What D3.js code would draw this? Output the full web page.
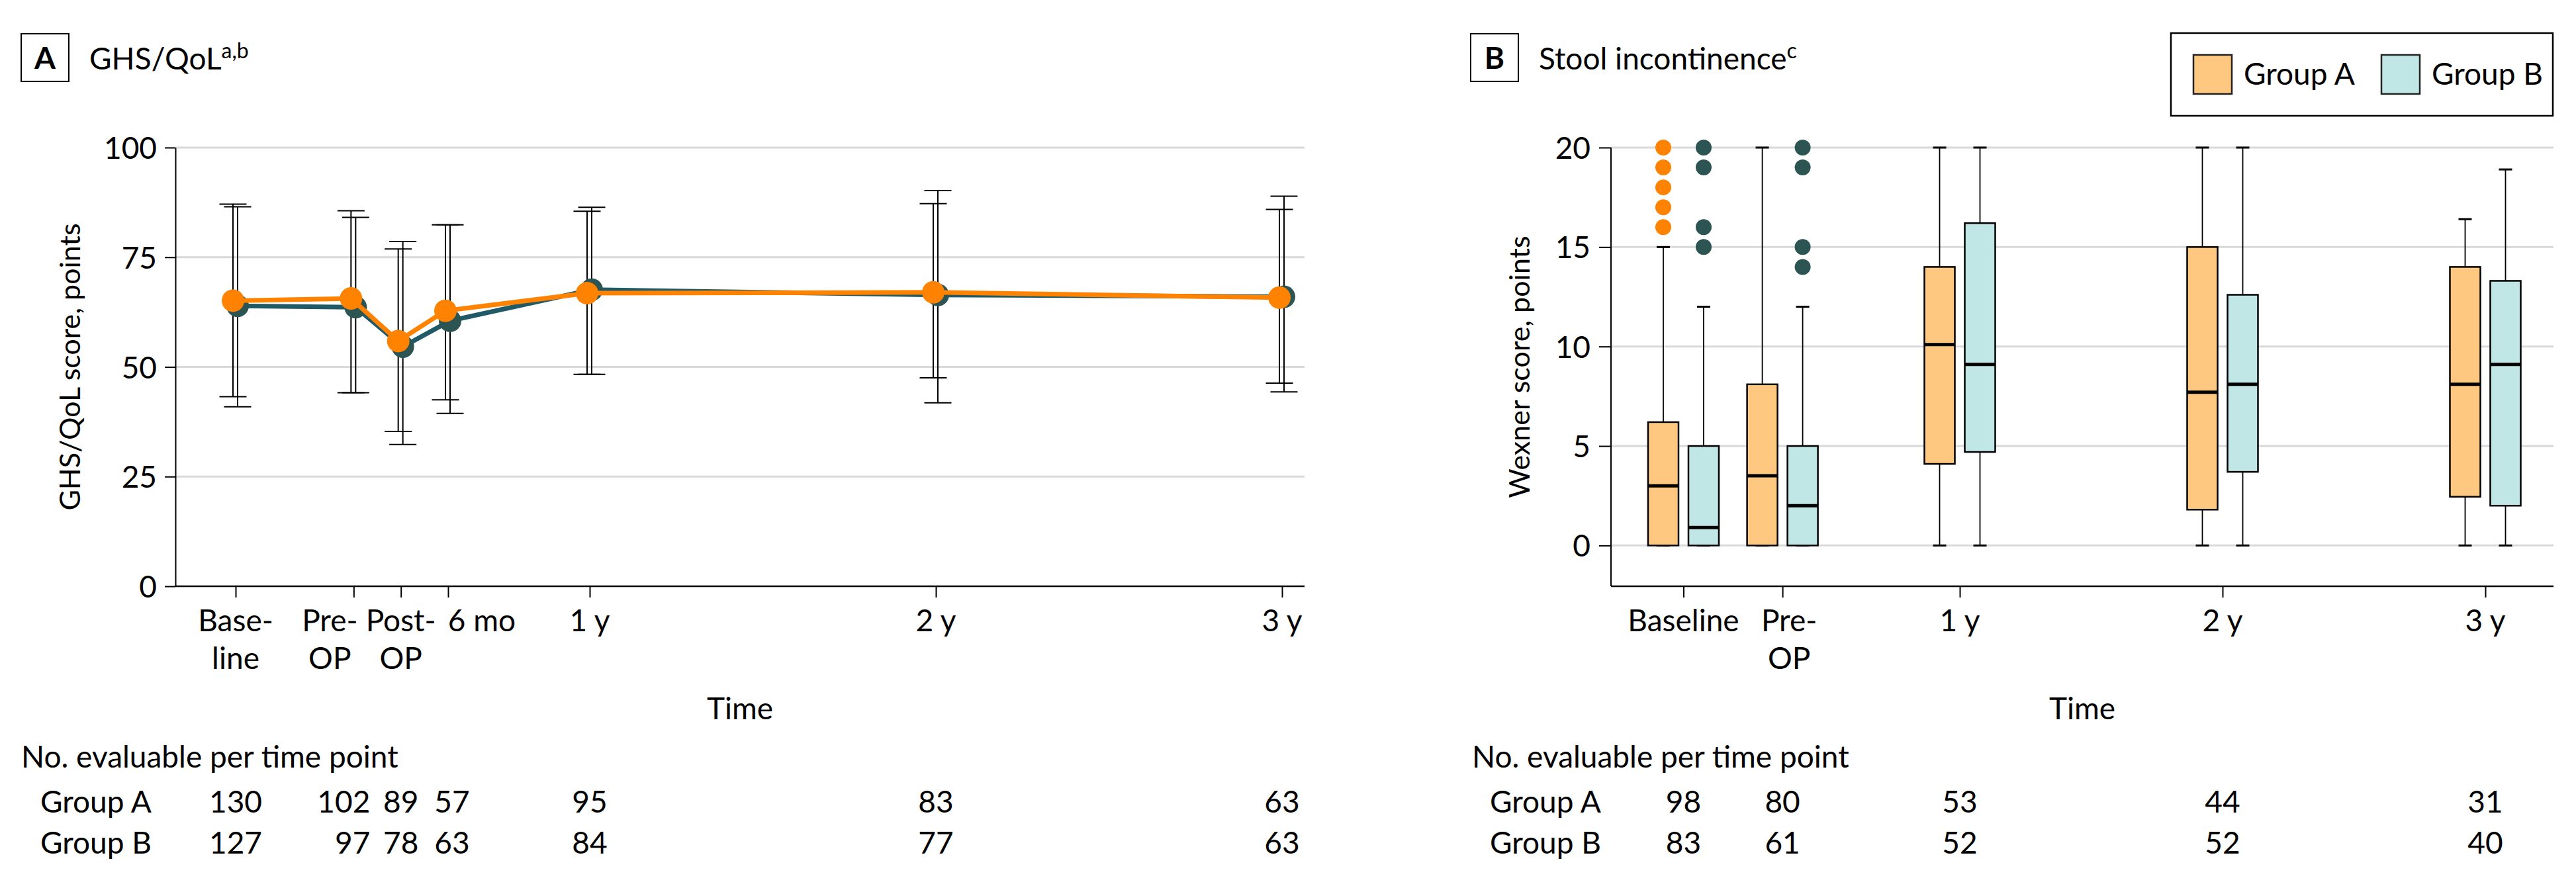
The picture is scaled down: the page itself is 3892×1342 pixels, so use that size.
<!DOCTYPE html>
<html>
<head>
<meta charset="utf-8">
<script src="https://cdn.jsdelivr.net/npm/d3@7"></script>
<style>
  body { margin: 0; background: #fff; }
  text { font-family: Lato, "Liberation Sans", sans-serif; fill: #000; }
</style>
</head>
<body>
<svg id="chart" width="3892" height="1342"></svg>
<script>
// ---------- Panel A: GHS/QoL, mean with error bars ----------
const timeLabelsA = ["Base-|line", "Pre-|OP", "Post-|OP", "6 mo", "1 y", "2 y", "3 y"];
const monthsA = [0, 4, 5.6, 7.2, 12, 24, 36];
const meanGroupA = [65.1, 65.6, 55.9, 62.8, 66.8, 67.0, 65.8];
const lowGroupA = [43.2, 44.1, 35.3, 42.5, 48.3, 47.5, 46.3];
const highGroupA = [87.1, 85.6, 76.9, 82.4, 85.5, 87.2, 85.9];
const meanGroupB = [63.9, 63.6, 54.6, 60.5, 67.6, 66.4, 66.0];
const lowGroupB = [40.9, 44.1, 32.3, 39.4, 48.3, 41.8, 44.3];
const highGroupB = [86.5, 84.1, 78.6, 82.4, 86.4, 90.2, 88.9];
const nEvalA_GroupA = [130, 102, 89, 57, 95, 83, 63];
const nEvalA_GroupB = [127, 97, 78, 63, 84, 77, 63];
const yTicksA = [0, 25, 50, 75, 100];

// ---------- Panel B: Wexner score box plots ----------
const timeLabelsB = ["Baseline", "Pre-|OP", "1 y", "2 y", "3 y"];
const monthsB = [0, 4.3, 12, 24, 36];
// [lower whisker, Q1, median, Q3, upper whisker]
const boxGroupA = [[0, 0, 3.0, 6.2, 15], [0, 0, 3.5, 8.1, 20], [0, 4.1, 10.1, 14, 20], [0, 1.8, 7.7, 15, 20], [0, 2.45, 8.1, 14, 16.4]];
const boxGroupB = [[0, 0, 0.9, 5, 12], [0, 0, 2, 5, 12], [0, 4.7, 9.1, 16.2, 20], [0, 3.7, 8.1, 12.6, 20], [0, 2, 9.1, 13.3, 18.9]];
const outGroupA = [[16, 17, 18, 19, 20], [], [], [], []];
const outGroupB = [[15, 16, 19, 20], [14, 15, 19, 20], [], [], []];
const nEvalB_GroupA = [98, 80, 53, 44, 31];
const nEvalB_GroupB = [83, 61, 52, 52, 40];
const yTicksB = [0, 5, 10, 15, 20];

const orange = "#ff8300", teal = "#2b5453", tealLine = "#1f5a66";
const fillA = "#ffc880", fillB = "#c0e6e5", grid = "#d9d9d9";

const svg = d3.select("#chart");

function panelHeader(x, letter, title, sup) {
  svg.append("rect").attr("x", x).attr("y", 51).attr("width", 72).attr("height", 72)
    .attr("fill", "none").attr("stroke", "#000").attr("stroke-width", 2);
  svg.append("text").attr("x", x + 36).attr("y", 104).attr("text-anchor", "middle")
    .attr("font-size", 46).attr("font-weight", "bold").text(letter);
  const t = svg.append("text").attr("x", x + 103).attr("y", 105).attr("font-size", 46).text(title);
  t.append("tspan").attr("font-size", 32).attr("dy", -17).text(sup);
}

function multiLine(sel, label, lineH) {
  label.split("|").forEach((s, k) => {
    sel.append("tspan").attr("x", sel.attr("x")).attr("dy", k === 0 ? 0 : lineH).text(s);
  });
}

function countTable(x0, rowX, xs, rows, anchors, dxs) {
  svg.append("text").attr("x", x0).attr("y", 1160).attr("font-size", 46).text("No. evaluable per time point");
  rows.forEach((r, k) => {
    const yy = 1228 + k * 62;
    svg.append("text").attr("x", rowX).attr("y", yy).attr("font-size", 46).text(r.name);
    svg.append("g").selectAll("text").data(r.values).join("text")
      .attr("x", (d, i) => xs[i] + dxs[i]).attr("y", yy)
      .attr("text-anchor", (d, i) => anchors[i])
      .attr("font-size", 46).text(d => d);
  });
}

// ================= PANEL A =================
{
  const left = 265, right = 1971;
  const x = d3.scaleLinear().domain([0, 12, 36]).range([356, 891, 1937]);
  const y = d3.scaleLinear().domain([0, 100]).range([886, 223]);

  panelHeader(32, "A", "GHS/QoL", "a,b");

  svg.append("g").selectAll("line").data(yTicksA.filter(d => d > 0)).join("line")
    .attr("x1", left).attr("x2", right).attr("y1", d => y(d)).attr("y2", d => y(d))
    .attr("stroke", grid).attr("stroke-width", 3);

  const yAxis = svg.append("g").attr("transform", `translate(${left},0)`)
    .call(d3.axisLeft(y).tickValues(yTicksA).tickSize(16).tickSizeOuter(0).tickPadding(12));
  yAxis.selectAll("path,line").attr("stroke-width", 2);
  yAxis.selectAll("text").attr("font-size", 46).attr("font-family", "Lato").attr("dy", "0.36em");

  svg.append("line").attr("x1", left).attr("x2", right).attr("y1", 886).attr("y2", 886)
    .attr("stroke", "#000").attr("stroke-width", 2.5);
  const xAxis = svg.append("g").attr("transform", "translate(0,886)")
    .call(d3.axisBottom(x).tickValues(monthsA).tickSize(17).tickFormat(""));
  xAxis.select(".domain").remove();
  xAxis.selectAll("line").attr("stroke-width", 2);

  const labelDx = [0, -36, 0, 51, 0, 0, 0];
  svg.append("g").selectAll("text").data(timeLabelsA).join("text")
    .attr("x", (d, i) => x(monthsA[i]) + labelDx[i]).attr("y", 954)
    .attr("text-anchor", "middle").attr("font-size", 46)
    .each(function (d) { multiLine(d3.select(this), d, 56.5); });

  svg.append("text").attr("x", (left + right) / 2).attr("y", 1087).attr("text-anchor", "middle")
    .attr("font-size", 46).text("Time");
  svg.append("text").attr("transform", `translate(121,${(223 + 886) / 2}) rotate(-90)`)
    .attr("text-anchor", "middle").attr("font-family", "DejaVu Sans").attr("font-size", 43)
    .text("GHS/QoL score, points");

  const series = [
    { mean: meanGroupB, low: lowGroupB, high: highGroupB, dx: 3, color: teal, line: tealLine },
    { mean: meanGroupA, low: lowGroupA, high: highGroupA, dx: -4, color: orange, line: orange }
  ];
  // error bars first
  series.forEach(s => {
    const g = svg.append("g").attr("stroke", "#000").attr("stroke-width", 2);
    monthsA.forEach((m, i) => {
      const cx = x(m) + s.dx;
      g.append("line").attr("x1", cx).attr("x2", cx).attr("y1", y(s.low[i])).attr("y2", y(s.high[i]));
      [s.low[i], s.high[i]].forEach(v => {
        g.append("line").attr("x1", cx - 20.5).attr("x2", cx + 20.5).attr("y1", y(v)).attr("y2", y(v));
      });
    });
  });
  series.forEach(s => {
    const line = d3.line().x((d, i) => x(monthsA[i]) + s.dx).y(d => y(d));
    svg.append("path").datum(s.mean).attr("d", line).attr("fill", "none")
      .attr("stroke", s.line).attr("stroke-width", 7);
    svg.append("g").selectAll("circle").data(s.mean).join("circle")
      .attr("cx", (d, i) => x(monthsA[i]) + s.dx).attr("cy", d => y(d)).attr("r", 17)
      .attr("fill", s.color);
  });

  countTable(32, 61, monthsA.map(x), [
    { name: "Group A", values: nEvalA_GroupA },
    { name: "Group B", values: nEvalA_GroupB }
  ], ["middle", "end", "middle", "middle", "middle", "middle", "middle"], [0, 25, 0, 6, 0, 0, 0]);
}

// ================= PANEL B =================
{
  const left = 2434, right = 3858;
  const x = d3.scaleLinear().domain([0, 12, 36]).range([2543.5, 2961, 3755]);
  const y = d3.scaleLinear().domain([-2.05, 20]).range([886, 223]);
  const bw = 46, off = 30.5, capW = 20;

  panelHeader(2222, "B", "Stool incontinence", "c");

  svg.append("g").selectAll("line").data(yTicksB).join("line")
    .attr("x1", left).attr("x2", right).attr("y1", d => y(d)).attr("y2", d => y(d))
    .attr("stroke", grid).attr("stroke-width", 3);

  const yAxis = svg.append("g").attr("transform", `translate(${left},0)`)
    .call(d3.axisLeft(y).tickValues(yTicksB).tickSize(18).tickSizeOuter(0).tickPadding(13));
  yAxis.select(".domain").attr("d", `M0,${y(20)}V${y.range()[0]}`);
  yAxis.selectAll("path,line").attr("stroke-width", 2);
  yAxis.selectAll("text").attr("font-size", 46).attr("font-family", "Lato").attr("dy", "0.36em");

  svg.append("line").attr("x1", left).attr("x2", right).attr("y1", 886).attr("y2", 886)
    .attr("stroke", "#000").attr("stroke-width", 2.5);
  const xAxis = svg.append("g").attr("transform", "translate(0,886)")
    .call(d3.axisBottom(x).tickValues(monthsB).tickSize(17).tickFormat(""));
  xAxis.select(".domain").remove();
  xAxis.selectAll("line").attr("stroke-width", 2);

  const labelDx = [0, 10, 0, 0, 0];
  svg.append("g").selectAll("text").data(timeLabelsB).join("text")
    .attr("x", (d, i) => x(monthsB[i]) + labelDx[i]).attr("y", 954)
    .attr("text-anchor", "middle").attr("font-size", 46)
    .each(function (d) { multiLine(d3.select(this), d, 56.5); });

  svg.append("text").attr("x", (left + right) / 2).attr("y", 1087).attr("text-anchor", "middle")
    .attr("font-size", 46).text("Time");
  svg.append("text").attr("transform", `translate(2311,${(223 + 886) / 2}) rotate(-90)`)
    .attr("text-anchor", "middle").attr("font-family", "DejaVu Sans").attr("font-size", 43)
    .text("Wexner score, points");

  const groups = [
    { boxes: boxGroupA, outs: outGroupA, dx: -off, fill: fillA, dot: orange },
    { boxes: boxGroupB, outs: outGroupB, dx: off, fill: fillB, dot: teal }
  ];
  groups.forEach(gr => {
    const g = svg.append("g");
    gr.boxes.forEach((b, i) => {
      const cx = x(monthsB[i]) + gr.dx;
      g.append("line").attr("x1", cx).attr("x2", cx).attr("y1", y(b[0])).attr("y2", y(b[4]))
        .attr("stroke", "#000").attr("stroke-width", 1.8);
      [b[0], b[4]].forEach(v => g.append("line")
        .attr("x1", cx - capW / 2).attr("x2", cx + capW / 2).attr("y1", y(v)).attr("y2", y(v))
        .attr("stroke", "#000").attr("stroke-width", 3));
      g.append("rect").attr("x", cx - bw / 2).attr("width", bw)
        .attr("y", y(b[3])).attr("height", y(b[1]) - y(b[3]))
        .attr("fill", gr.fill).attr("stroke", "#000").attr("stroke-width", 2.5);
      g.append("line").attr("x1", cx - bw / 2).attr("x2", cx + bw / 2)
        .attr("y1", y(b[2])).attr("y2", y(b[2])).attr("stroke", "#000").attr("stroke-width", 5);
      g.selectAll(null).data(gr.outs[i]).join("circle")
        .attr("cx", cx).attr("cy", d => y(d)).attr("r", 12).attr("fill", gr.dot);
    });
  });

  // legend
  const lg = svg.append("g");
  lg.append("rect").attr("x", 3280).attr("y", 50).attr("width", 577).attr("height", 125)
    .attr("fill", "#fff").attr("stroke", "#000").attr("stroke-width", 2.5);
  [{ name: "Group A", fill: fillA, x: 3314 }, { name: "Group B", fill: fillB, x: 3598 }].forEach(it => {
    lg.append("rect").attr("x", it.x).attr("y", 83).attr("width", 58).attr("height", 59)
      .attr("fill", it.fill).attr("stroke", "#222").attr("stroke-width", 2.5);
    lg.append("text").attr("x", it.x + 76).attr("y", 128).attr("font-size", 46).text(it.name);
  });

  countTable(2224, 2251, monthsB.map(x), [
    { name: "Group A", values: nEvalB_GroupA },
    { name: "Group B", values: nEvalB_GroupB }
  ], ["middle", "middle", "middle", "middle", "middle"], [0, 0, 0, 0, 0]);
}
</script>
</body>
</html>
